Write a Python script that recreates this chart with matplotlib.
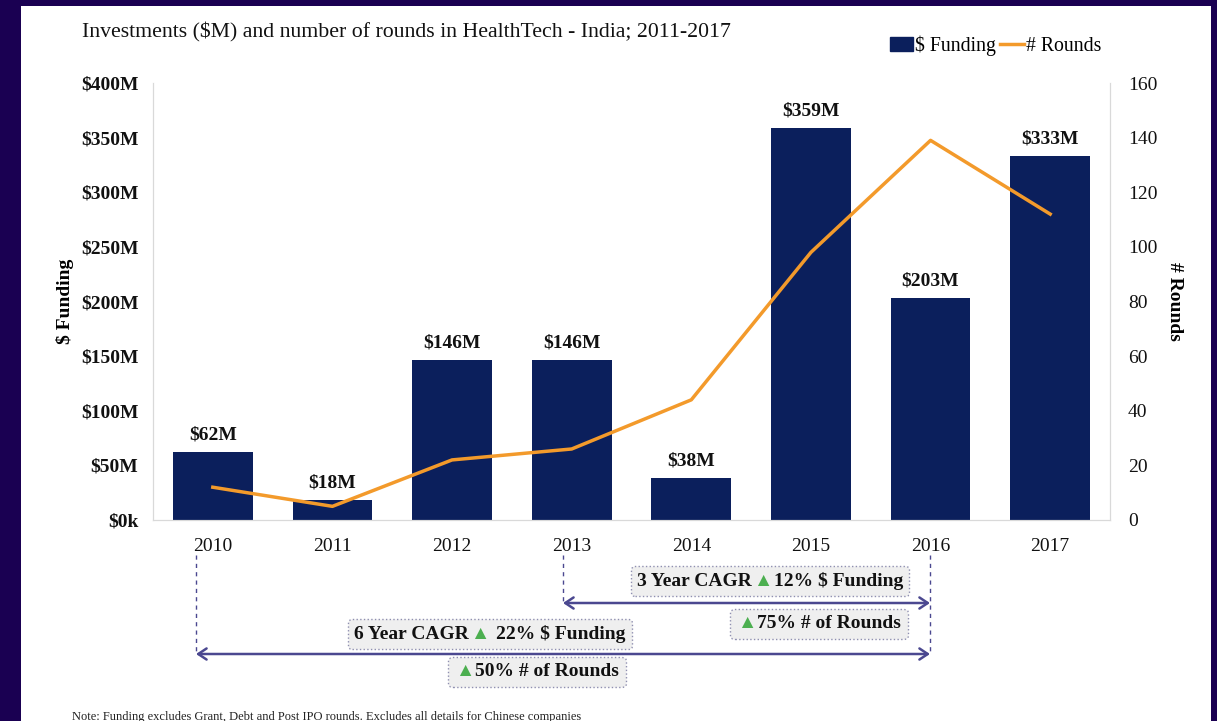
import matplotlib
matplotlib.use('Agg')
from matplotlib import pyplot as plt
from matplotlib.patches import Rectangle, FancyArrowPatch
from matplotlib.offsetbox import TextArea, HPacker, AnnotationBbox
import numpy as np

years = ['2010', '2011', '2012', '2013', '2014', '2015', '2016', '2017']
funding = [62, 18, 146, 146, 38, 359, 203, 333]
rounds = [12, 5, 22, 26, 44, 98, 139, 112]
funding_ticks = [0, 50, 100, 150, 200, 250, 300, 350, 400]
funding_tick_labels = ['$0k', '$50M', '$100M', '$150M', '$200M', '$250M', '$300M', '$350M', '$400M']
rounds_ticks = [0, 20, 40, 60, 80, 100, 120, 140, 160]

NAVY = '#0b1f5c'
ORANGE = '#f39a2b'
ARROW = '#4b4890'
GREEN = '#4caf50'
FONT = ['Liberation Serif', 'DejaVu Sans']

W, H = 1217, 721
plt.rcParams['font.family'] = FONT


def px(x, y):
    # pixel position (from top-left) -> figure fraction
    return x / W, 1 - y / H


fig = plt.figure(figsize=(W / 100, H / 100), dpi=100)
fig.patch.set_facecolor('#1a0052')
fig.patches.append(Rectangle((21 / W, 0), (1211 - 21) / W, 1 - 6 / H,
                             transform=fig.transFigure, facecolor='white',
                             edgecolor='none', zorder=-5))

l, t = px(153, 83)
r, b = px(1110, 520)
ax = fig.add_axes([l, b, r - l, t - b])
ax2 = ax.twinx()

x = np.arange(len(years))
bars = ax.bar(x, funding, width=0.667, color=NAVY, zorder=2)
for xi, v in zip(x, funding):
    ax.text(xi, v + 8, f'${v}M', ha='center', va='bottom', fontsize=14,
            fontweight='bold', color='#111111')

ax2.plot(x, rounds, color=ORANGE, lw=2.5, zorder=3)

ax.set_xlim(-0.5, len(years) - 0.5)
ax.set_ylim(0, 400)
ax2.set_ylim(0, 160)
ax.set_xticks(x)
ax.set_xticklabels(years, fontsize=14)
ax.set_yticks(funding_ticks)
ax.set_yticklabels(funding_tick_labels, fontsize=14, fontweight='bold')
ax2.set_yticks(rounds_ticks)
ax2.set_yticklabels([str(v) for v in rounds_ticks], fontsize=14)

for a in (ax, ax2):
    a.tick_params(length=0, colors='#111111')
    a.spines['top'].set_visible(False)
    for s in ('left', 'right', 'bottom'):
        a.spines[s].set_color('#d9d9d9')
ax.tick_params(axis='y', pad=10.5)
ax.tick_params(axis='x', pad=13)
ax2.tick_params(axis='y', pad=13)
ax.set_ylabel('$ Funding', fontsize=14, fontweight='bold', labelpad=5)
ax2.set_ylabel('# Rounds', fontsize=14, fontweight='bold', rotation=-90,
               labelpad=18)
ax2.set_zorder(ax.get_zorder() + 1)
ax2.patch.set_visible(False)

fig.text(*px(82, 32), 'Investments ($M) and number of rounds in HealthTech - India; 2011-2017',
         fontsize=15.7, va='center', ha='left', color='#111111')

handles = [Rectangle((0, 0), 1, 1, color=NAVY), plt.Line2D([], [], color=ORANGE, lw=2.5)]
fig.legend(handles, ['$ Funding', '# Rounds'], loc='center right',
           bbox_to_anchor=px(1101, 46), ncol=2, frameon=False, fontsize=14.2,
           handlelength=1.2, handletextpad=0.1, columnspacing=0.2,
           handleheight=0.7, borderpad=0, borderaxespad=0)

# CAGR brackets
for xp, y0, y1 in [(196, 555, 655), (563, 555, 605), (930, 555, 655)]:
    fig.add_artist(plt.Line2D([xp / W, xp / W], [1 - y0 / H, 1 - y1 / H],
                              color=ARROW, lw=1, ls=(0, (3, 3))))
for x0, x1, y in [(563, 930, 603), (196, 930, 654)]:
    fig.add_artist(FancyArrowPatch(
        px(x0, y), px(x1, y), transform=fig.transFigure,
        arrowstyle='<->,head_length=6,head_width=4', color=ARROW, lw=1.8,
        shrinkA=0, shrinkB=0))


def cagr_box(parts, cx, cy):
    areas = [TextArea(s, textprops=dict(fontsize=14, fontweight='bold', color=c,
                                       family=FONT))
             for s, c in parts]
    pack = HPacker(children=areas, align='baseline', pad=0, sep=1)
    ab = AnnotationBbox(pack, px(cx, cy), xycoords='figure fraction',
                        box_alignment=(0.5, 0.5), pad=0.45, frameon=True,
                        bboxprops=dict(boxstyle='round,pad=0.45,rounding_size=0.3',
                                       fc='#efefef', ec='#8f8fb0', ls=':', lw=1))
    fig.add_artist(ab)


cagr_box([('3 Year CAGR', '#111111'), ('▲', GREEN), ('12% $ Funding', '#111111')], 770, 581)
cagr_box([('▲', GREEN), ('75% # of Rounds', '#111111')], 819, 624)
cagr_box([('6 Year CAGR', '#111111'), ('▲ ', GREEN), ('22% $ Funding', '#111111')], 490, 634)
cagr_box([('▲', GREEN), ('50% # of Rounds', '#111111')], 537, 672)

fig.text(*px(72, 711), 'Note: Funding excludes Grant, Debt and Post IPO rounds. Excludes all details for Chinese companies',
         fontsize=9, va='top', ha='left', color='#222222')

fig.savefig('out.png', dpi=100, facecolor=fig.get_facecolor())
